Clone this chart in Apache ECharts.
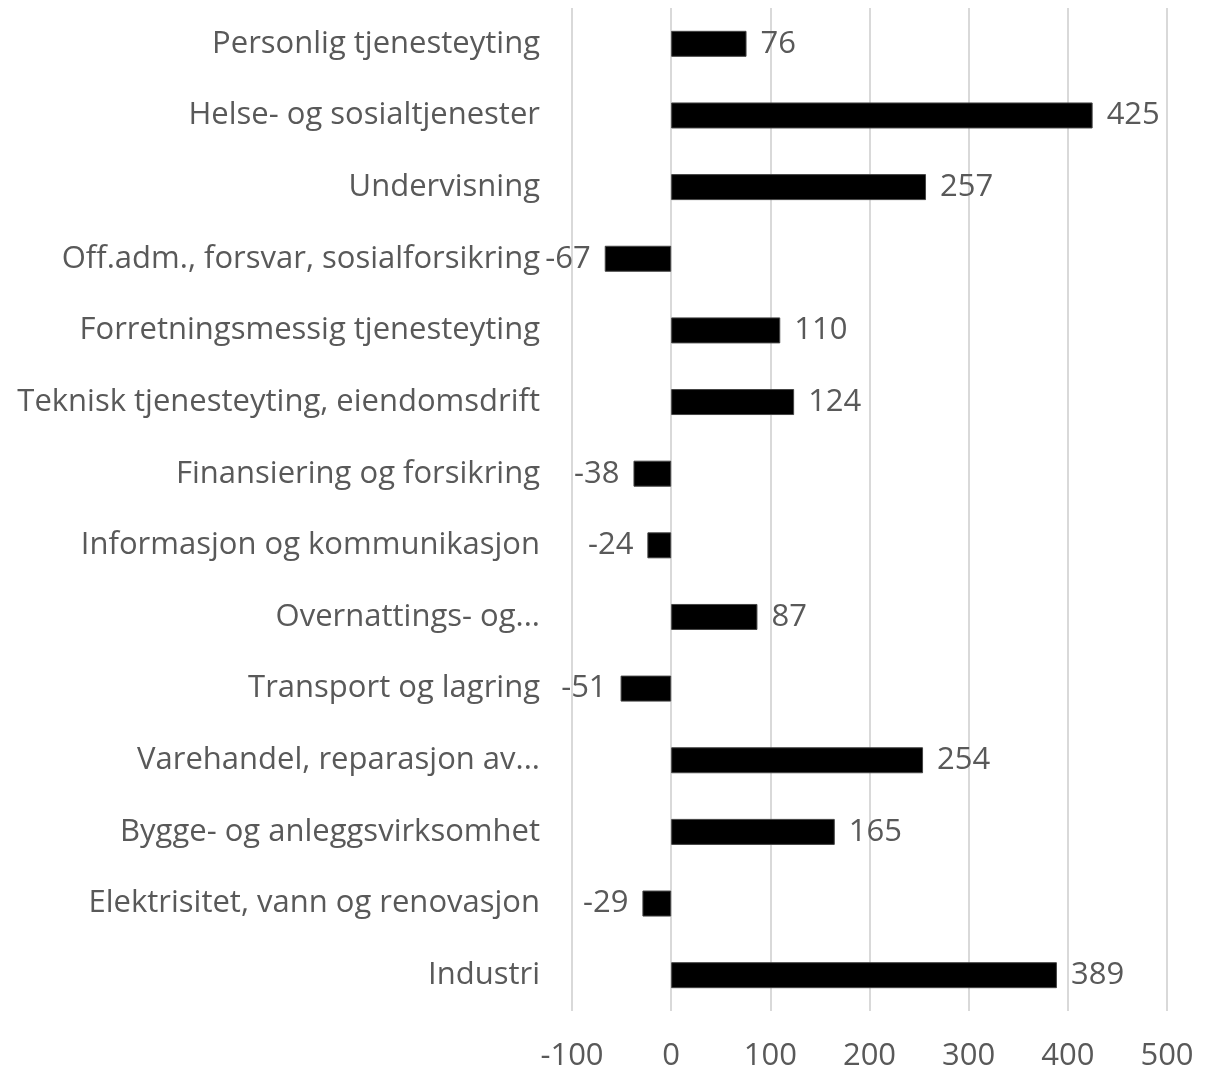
<!DOCTYPE html>
<html>
<head>
<meta charset="utf-8">
<script src="https://cdn.jsdelivr.net/npm/echarts@6/dist/echarts.min.js"></script>
<style>
  html, body { margin: 0; padding: 0; background: #fff; }
  #chart { width: 1212px; height: 1072px; }
</style>
</head>
<body>
<div id="chart"></div>
<script>
const categories = [
  "Personlig tjenesteyting",
  "Helse- og sosialtjenester",
  "Undervisning",
  "Off.adm., forsvar, sosialforsikring",
  "Forretningsmessig tjenesteyting",
  "Teknisk tjenesteyting, eiendomsdrift",
  "Finansiering og forsikring",
  "Informasjon og kommunikasjon",
  "Overnattings- og...",
  "Transport og lagring",
  "Varehandel, reparasjon av...",
  "Bygge- og anleggsvirksomhet",
  "Elektrisitet, vann og renovasjon",
  "Industri"
]
const values = [76, 425, 257, -67, 110, 124, -38, -24, 87, -51, 254, 165, -29, 389]

const textColor = "#595959"
const font = "'Open Sans', Lato, sans-serif"

const chart = echarts.init(document.getElementById("chart"))
chart.setOption({
  animation: false,
  grid: {left: 572, right: 45, top: 8, bottom: 60},
  xAxis: {
    type: "value",
    min: -100,
    max: 500,
    interval: 100,
    axisLine: {show: false},
    axisTick: {show: false},
    splitLine: {lineStyle: {color: "#d9d9d9", width: 2}},
    axisLabel: {color: textColor, fontSize: 31, fontFamily: font, margin: 30}
  },
  yAxis: {
    type: "category",
    inverse: true,
    data: categories,
    axisLine: {show: false},
    axisTick: {show: false},
    axisLabel: {color: textColor, fontSize: 31, fontFamily: font, margin: 32, padding: [4, 0, 0, 0]}
  },
  series: [{
    type: "bar",
    barWidth: 26,
    itemStyle: {color: "#000", borderColor: "#444", borderWidth: 1},
    label: {show: true, color: textColor, fontSize: 31, fontFamily: font, distance: 14, padding: [4, 0, 0, 0]},
    data: values.map(v => ({
      value: v,
      label: {position: v < 0 ? "left" : "right"}
    }))
  }]
})
</script>
</body>
</html>
